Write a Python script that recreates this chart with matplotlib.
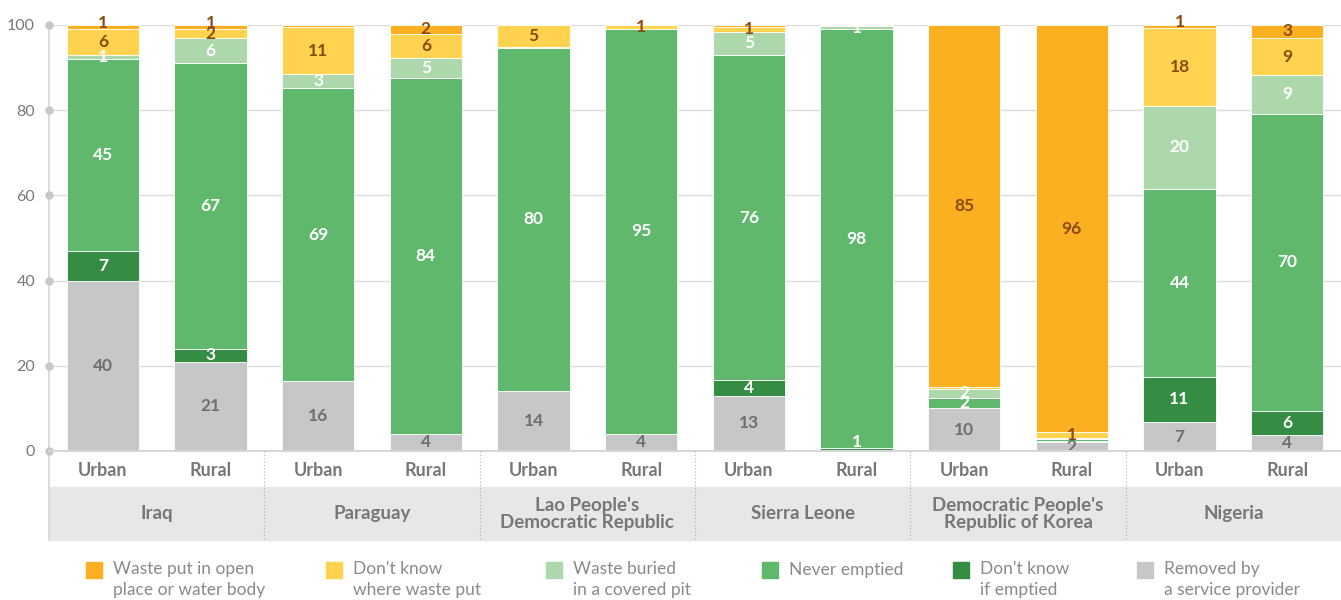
import numpy as np
import matplotlib
matplotlib.use("Agg")
import matplotlib.pyplot as plt
from matplotlib.patches import Rectangle

plt.rcParams['font.family'] = ['Lato', 'DejaVu Sans']

countries = ["Iraq", "Paraguay", "Lao People's\nDemocratic Republic", "Sierra Leone",
             "Democratic People's\nRepublic of Korea", "Nigeria"]
areas = ["Urban", "Rural"] * 6

# stacked bottom -> top, one value per bar (Urban, Rural for each country)
removed = [40, 21, 16.4, 4, 14.1, 4, 13, 0, 10, 2, 6.8, 3.8]
dk_if_emptied = [7, 3, 0, 0, 0, 0, 3.6, 0.6, 0, 0.3, 10.6, 5.6]
never_emptied = [45, 67, 68.8, 83.6, 80.5, 95.1, 76.4, 98.4, 2.4, 0.4, 44.1, 69.8]
buried = [1, 6, 3.2, 4.7, 0.3, 0, 5.4, 0.8, 2.2, 0.4, 19.6, 9]
dk_where = [6, 2, 11.2, 5.7, 5.1, 0.9, 1.2, 0.2, 0.4, 1.3, 18.1, 8.8]
open_place = [1, 1, 0.4, 2, 0, 0, 0.4, 0, 85, 95.6, 0.9, 3]

series = [removed, dk_if_emptied, never_emptied, buried, dk_where, open_place]
colors = ["#c6c7c9", "#358d44", "#5fb86b", "#acd8ac", "#ffd34f", "#fbb021"]
text_colors = ["#6d6e70", "white", "white", "white", "#8a4b0f", "#8a4b0f"]

legend_labels = ["Waste put in open\nplace or water body", "Don't know\nwhere waste put",
                 "Waste buried\nin a covered pit", "Never emptied",
                 "Don't know\nif emptied", "Removed by\na service provider"]

W, H = 1341, 600
fig = plt.figure(figsize=(W / 100, H / 100), dpi=100)
ax = fig.add_axes([49 / W, (H - 451) / H, (W - 49) / W, 426 / H])

x = np.arange(len(areas))
bottom = np.zeros(len(areas))
for k, (vals, c, tc) in enumerate(zip(series, colors, text_colors)):
    vals = np.array(vals, dtype=float)
    ax.bar(x, vals, 0.67, bottom=bottom, color=c, edgecolor="white", linewidth=0.6, zorder=3)
    for xi, b, v in zip(x, bottom, vals):
        if round(v) >= 1:
            y = b + v / 2
            if v < 1.5 and k == 5:
                y += 1.0
            if v < 1.5 and k == 1:
                y = max(y, 2.2)
            ax.text(xi, y, str(int(round(v))), ha="center", va="center",
                    color=tc, fontsize=12.5, fontweight="bold", zorder=4)
    bottom += vals

ax.set_xlim(-0.5, 11.5)
ax.set_ylim(0, 100)
ax.set_yticks([0, 20, 40, 60, 80, 100])
ax.tick_params(axis="y", length=0, pad=10, labelsize=11.5, labelcolor="#777777")
ax.set_xticks([])
for s in ax.spines.values():
    s.set_visible(False)
ax.grid(axis="y", color="#dcdcdc", linewidth=1, zorder=0)
ax.plot(np.full(6, -0.5), [0, 20, 40, 60, 80, 100], "o", color="#c6c7c9",
        markersize=5, clip_on=False, zorder=5)

tr = ax.get_xaxis_transform()
# left axis line down through the category band
ax.plot([-0.5, -0.5], [1, -0.209], color="#d6d6d6", linewidth=1.2, transform=tr, clip_on=False)
ax.plot([-0.5, 11.6], [0, 0], color="#d6d6d6", linewidth=1.5, transform=tr, clip_on=False, zorder=5)

for xi, a in zip(x, areas):
    ax.text(xi, -0.045, a, ha="center", va="center", color="#777777",
            fontsize=13, fontweight="bold", transform=tr)

ax.add_patch(Rectangle((-0.5, -0.209), 12.2, 0.124, transform=tr, color="#e6e7e8",
                       clip_on=False, zorder=1))
for i, name in enumerate(countries):
    ax.text(2 * i + 0.5, -0.147, name, ha="center", va="center", color="#777777",
            fontsize=13.5, fontweight="bold", linespacing=1.0, transform=tr)
for i in range(1, 6):
    ax.plot([2 * i - 0.5] * 2, [0, -0.209], color="#b0b0b0", linestyle=(0, (1, 2)),
            linewidth=0.8, transform=tr, clip_on=False, zorder=2)

# legend
leg_x = [86, 326, 546, 762, 953, 1137]
leg_colors = colors[::-1]
for lx, lc, lt in zip(leg_x, leg_colors, legend_labels):
    fig.patches.append(Rectangle((lx / W, (H - 578) / H), 16 / W, 16 / H,
                                 color=lc, transform=fig.transFigure))
    if "\n" in lt:
        fig.text((lx + 27) / W, (H - 561) / H, lt, ha="left", va="top",
                 color="#8a8a8a", fontsize=12.5, linespacing=1.4)
    else:
        fig.text((lx + 27) / W, (H - 570) / H, lt, ha="left", va="center",
                 color="#8a8a8a", fontsize=12.5)

fig.savefig("out.png", dpi=100)
